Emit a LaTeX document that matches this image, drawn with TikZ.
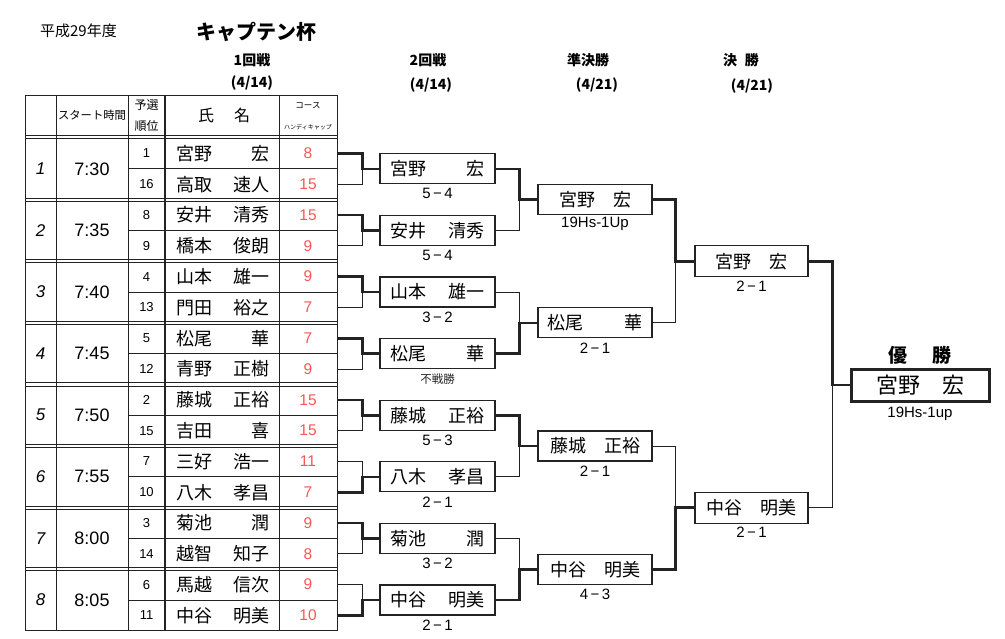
\documentclass[tikz,border=0pt]{standalone}
\usepackage{fontspec}
\setmainfont{Liberation Sans}
\newfontfamily\jp{Noto Sans CJK JP}
\usetikzlibrary{calc}
\definecolor{hcol}{RGB}{250,85,85}
\definecolor{ln}{RGB}{35,35,35}
\newcommand\dsh{\hspace{2.5pt}−\hspace{2.5pt}}
\tikzset{
  grid/.style={draw=ln, line width=0.9pt},
  gridb/.style={draw=ln, line width=2pt},
  wl/.style={draw=ln, line width=1pt},
  bl/.style={draw=ln, line width=2.6pt},
  nbox/.style={draw=ln, line width=1.2pt, fill=white, inner sep=0pt, minimum height=30pt, font=\jp\fontsize{18}{18}\selectfont},
  tname/.style={inner sep=0pt, font=\jp\fontsize{18}{18}\selectfont},
  rankt/.style={inner sep=0pt, font=\fontsize{13}{13}\selectfont},
  timet/.style={inner sep=0pt, font=\fontsize{18}{18}\selectfont},
  gnum/.style={inner sep=0pt, font=\itshape\fontsize{17}{17}\selectfont},
  hct/.style={inner sep=0pt, minimum width=58pt, minimum height=14pt, text=hcol, font=\fontsize{15.5}{15.5}\selectfont},
  score/.style={inner sep=0pt, font=\fontsize{15}{15}\selectfont},
  hdr/.style={inner sep=0pt, font=\jp\bfseries\fontsize{14}{14}\selectfont},
  cellh/.style={inner sep=0pt, font=\jp\fontsize{12}{12}\selectfont}
}
\begin{document}
\begin{tikzpicture}[x=1pt,y=-1pt]
\useasboundingbox[fill=white] (0,0) rectangle (1005,638);
% titles
\node[inner sep=0pt, font=\jp\fontsize{15}{15}\selectfont] at (78.5,31) {平成29年度};
\node[inner sep=0pt, font=\jp\bfseries\fontsize{20}{20}\selectfont] at (256,32) {キャプテン杯};
\node[hdr] at (252,60) {1回戦};
\node[hdr] at (252,83) {(4/14)};
\node[hdr] at (428,60) {2回戦};
\node[hdr] at (431,85) {(4/14)};
\node[hdr] at (588,60) {準決勝};
\node[hdr] at (597,85) {(4/21)};
\node[hdr] at (741,60) {決\hspace{8pt}勝};
\node[hdr] at (752,86) {(4/21)};
% table grid
\draw[grid] (25,95) rectangle (337,630.8);
\draw[grid] (56,95) -- (56,630.8) (128,95) -- (128,630.8) (279,95) -- (279,630.8);
\draw[gridb] (165,95) -- (165,630.8);
\draw[grid] (25,135.5) -- (337,135.5) (25,138.8) -- (337,138.8);
\foreach \i in {2,...,8}{
  \pgfmathsetmacro\t{138+61.6*(\i-1)}
  \draw[grid] (25,\t-1.6) -- (337,\t-1.6) (25,\t+1.6) -- (337,\t+1.6);
}
\foreach \i in {1,...,8}{
  \pgfmathsetmacro\t{138+61.6*(\i-1)}
  \draw[grid] (128,\t+30.8) -- (337,\t+30.8);
}
% header cells
\node[cellh, font=\jp\fontsize{11.3}{11.3}\selectfont] at (92,115) {スタート時間};
\node[cellh] at (146.5,105) {予選};
\node[cellh] at (146.5,126) {順位};
\node[cellh, font=\jp\fontsize{16}{16}\selectfont] at (224,115) {氏\hspace{20pt}名};
\node[cellh, font=\jp\fontsize{8.5}{8.5}\selectfont] at (308,106) {コース};
\node[cellh, font=\jp\fontsize{6}{6}\selectfont] at (308,127) {ハンディキャップ};
% table rows
\foreach \i/\tm/\ra/\sa/\ga/\ha/\rb/\sb/\gb/\hb in {
 1/7:30/1/宮野/宏/8/16/高取/速人/15,
 2/7:35/8/安井/清秀/15/9/橋本/俊朗/9,
 3/7:40/4/山本/雄一/9/13/門田/裕之/7,
 4/7:45/5/松尾/華/7/12/青野/正樹/9,
 5/7:50/2/藤城/正裕/15/15/吉田/喜/15,
 6/7:55/7/三好/浩一/11/10/八木/孝昌/7,
 7/8:00/3/菊池/潤/9/14/越智/知子/8,
 8/8:05/6/馬越/信次/9/11/中谷/明美/10}{
  \pgfmathsetmacro\t{138+61.6*(\i-1)}
  \node[gnum] at (40.5,\t+30.8) {\i};
  \node[timet] at (92,\t+30.8) {\tm};
  \node[rankt] at (146.5,\t+15.4) {\ra};
  \node[rankt] at (146.5,\t+46.2) {\rb};
  \node[tname] at (223,\t+15.4) {\hbox to 94pt{\sa\hfill\ga}};
  \node[tname] at (223,\t+46.2) {\hbox to 94pt{\sb\hfill\gb}};
  \node[hct] (ha\i) at (308,\t+15.4) {\ha};
  \node[hct] (hb\i) at (308,\t+46.2) {\hb};
}
% round 2 boxes
\foreach \i/\s/\g/\sc in {1/宮野/宏/5\dsh4, 2/安井/清秀/5\dsh4, 3/山本/雄一/3\dsh2, 4/松尾/華/{},
  5/藤城/正裕/5\dsh3, 6/八木/孝昌/2\dsh1, 7/菊池/潤/3\dsh2, 8/中谷/明美/2\dsh1}{
  \pgfmathsetmacro\c{168.8+61.6*(\i-1)}
  \node[nbox, minimum width=115pt] (r\i) at (437.5,\c) {\hbox to 94pt{\s\hfill\g}};
  \node[score] (rs\i) at ($(r\i.south)+(0,9.5)$) {\sc};
}
\node[inner sep=0pt, font=\jp\fontsize{11.5}{11.5}\selectfont, text=ln] (fs) at ($(r4.south)+(0,10)$) {不戦勝};
% round 1 brackets
\foreach \i in {1,...,8}{
  \draw[wl] (ha\i.east) -- ++(25,0) |- (r\i.west);
  \draw[wl] (hb\i.east) -- ++(25,0) |- (r\i.west);
}
\foreach \i/\w in {1/a,2/a,3/a,4/a,5/a,6/b,7/a,8/b}{
  \draw[bl] (h\w\i.east) -- ++(25,0) |- (r\i.west);
}
% semifinals
\node[nbox, minimum width=114pt] (s1) at (595,199.6) {宮野　宏};
\node[nbox, minimum width=114pt] (s2) at (595,322.8) {\hbox to 96pt{松尾\hfill 華}};
\node[nbox, minimum width=114pt] (s3) at (595,446) {藤城　正裕};
\node[nbox, minimum width=114pt] (s4) at (595,569.2) {中谷　明美};
\node[score] at ($(s1.south)+(0,9)$) {19Hs-1Up};
\node[score] at ($(s2.south)+(0,9.5)$) {2\dsh1};
\node[score] at ($(s3.south)+(0,9.5)$) {2\dsh1};
\node[score] at ($(s4.south)+(0,9.5)$) {4\dsh3};
\foreach \a/\b/\s in {1/2/1,3/4/2,5/6/3,7/8/4}{
  \draw[wl] (r\a.east) -- ++(24,0) |- (s\s.west);
  \draw[wl] (r\b.east) -- ++(24,0) |- (s\s.west);
}
\foreach \w/\s in {1/1,4/2,5/3,8/4}{
  \draw[bl] (r\w.east) -- ++(24,0) |- (s\s.west);
}
% finals
\node[nbox, minimum width=113pt, minimum height=31pt] (f1) at (751.5,261.2) {宮野　宏};
\node[nbox, minimum width=113pt, minimum height=31pt] (f2) at (751.5,507.6) {中谷　明美};
\node[score] at ($(f1.south)+(0,9)$) {2\dsh1};
\node[score] at ($(f2.south)+(0,9)$) {2\dsh1};
\draw[wl] (s1.east) -- ++(23,0) |- (f1.west);
\draw[wl] (s2.east) -- ++(23,0) |- (f1.west);
\draw[wl] (s3.east) -- ++(23,0) |- (f2.west);
\draw[wl] (s4.east) -- ++(23,0) |- (f2.west);
\draw[bl] (s1.east) -- ++(23,0) |- (f1.west);
\draw[bl] (s4.east) -- ++(23,0) |- (f2.west);
% champion
\node[nbox, line width=3pt, minimum width=138pt, minimum height=32pt, font=\jp\fontsize{22}{22}\selectfont] (w) at (920,385) {宮野　宏};
\node[inner sep=0pt, font=\jp\bfseries\fontsize{19}{19}\selectfont] at (920,355) {優\hspace{26pt}勝};
\node[score] at ($(w.south)+(0,11)$) {19Hs-1up};
\draw[wl] (f1.east) -- ++(24,0) |- (w.west);
\draw[wl] (f2.east) -- ++(24,0) |- (w.west);
\draw[bl] (f1.east) -- ++(24,0) |- (w.west);
\end{tikzpicture}
\end{document}
